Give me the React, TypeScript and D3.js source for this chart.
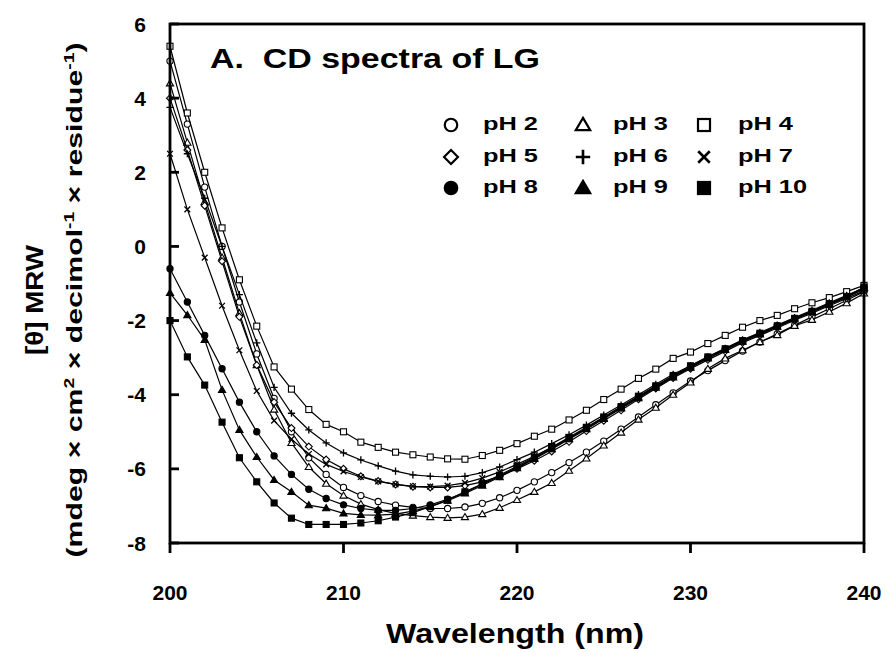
import React from "react";
import * as d3 from "d3";

const wavelengths = [200,201,202,203,204,205,206,207,208,209,210,211,212,213,214,215,216,217,218,219,220,221,222,223,224,225,226,227,228,229,230,231,232,233,234,235,236,237,238,239,240];

const pH2 = [5.0,3.3,1.6,0.0,-1.5,-2.9,-4.1,-5.0,-5.7,-6.15,-6.5,-6.72,-6.88,-6.98,-7.04,-7.07,-7.07,-7.03,-6.93,-6.78,-6.58,-6.35,-6.1,-5.83,-5.55,-5.25,-4.93,-4.6,-4.27,-3.95,-3.63,-3.35,-3.08,-2.82,-2.58,-2.36,-2.13,-1.9,-1.68,-1.45,-1.22];
const pH3 = [4.4,2.8,1.2,-0.3,-1.8,-3.2,-4.4,-5.3,-5.95,-6.4,-6.72,-6.95,-7.1,-7.2,-7.26,-7.3,-7.32,-7.3,-7.22,-7.05,-6.84,-6.62,-6.38,-6.05,-5.72,-5.37,-5.02,-4.67,-4.35,-4.0,-3.67,-3.3,-3.02,-2.8,-2.58,-2.39,-2.14,-1.98,-1.76,-1.53,-1.27];
const pH4 = [5.4,3.6,2.0,0.5,-0.9,-2.15,-3.25,-3.85,-4.4,-4.8,-5.0,-5.28,-5.42,-5.55,-5.62,-5.68,-5.73,-5.74,-5.64,-5.5,-5.32,-5.12,-4.93,-4.68,-4.42,-4.13,-3.85,-3.56,-3.31,-3.02,-2.85,-2.62,-2.4,-2.18,-2.0,-1.86,-1.68,-1.52,-1.38,-1.22,-1.05];
const pH5 = [4.0,2.6,1.1,-0.4,-1.9,-3.2,-4.2,-4.9,-5.4,-5.75,-6.0,-6.2,-6.33,-6.42,-6.48,-6.5,-6.5,-6.45,-6.35,-6.2,-6.0,-5.78,-5.53,-5.27,-4.98,-4.7,-4.42,-4.12,-3.83,-3.55,-3.3,-3.06,-2.83,-2.6,-2.4,-2.2,-1.99,-1.8,-1.6,-1.4,-1.2];
const pH6 = [3.75,2.5,1.3,0.0,-1.3,-2.6,-3.8,-4.5,-4.95,-5.3,-5.57,-5.76,-5.92,-6.06,-6.16,-6.2,-6.22,-6.2,-6.1,-5.95,-5.75,-5.55,-5.32,-5.08,-4.82,-4.55,-4.28,-4.0,-3.72,-3.45,-3.22,-2.98,-2.75,-2.52,-2.32,-2.12,-1.92,-1.72,-1.52,-1.32,-1.12];
const pH7 = [2.5,1.0,-0.3,-1.6,-2.8,-3.9,-4.7,-5.2,-5.6,-5.88,-6.07,-6.22,-6.34,-6.42,-6.47,-6.48,-6.45,-6.38,-6.25,-6.08,-5.88,-5.66,-5.42,-5.17,-4.9,-4.62,-4.33,-4.05,-3.77,-3.5,-3.25,-3.0,-2.78,-2.56,-2.36,-2.16,-1.95,-1.76,-1.56,-1.36,-1.16];
const pH8 = [-0.6,-1.5,-2.4,-3.3,-4.2,-5.0,-5.65,-6.15,-6.55,-6.8,-6.97,-7.07,-7.12,-7.12,-7.07,-6.97,-6.82,-6.63,-6.42,-6.2,-5.96,-5.71,-5.45,-5.18,-4.91,-4.63,-4.35,-4.07,-3.79,-3.51,-3.25,-3.0,-2.77,-2.55,-2.35,-2.15,-1.95,-1.75,-1.55,-1.35,-1.1];
const pH9 = [-1.25,-1.85,-2.52,-3.87,-4.95,-5.68,-6.3,-6.62,-6.98,-7.06,-7.2,-7.24,-7.25,-7.22,-7.14,-7.02,-6.86,-6.66,-6.45,-6.22,-5.98,-5.73,-5.47,-5.2,-4.93,-4.65,-4.37,-4.09,-3.81,-3.53,-3.27,-3.02,-2.79,-2.57,-2.37,-2.17,-1.97,-1.77,-1.57,-1.37,-1.12];
const pH10 = [-2.0,-2.98,-3.74,-4.74,-5.7,-6.35,-6.92,-7.33,-7.5,-7.5,-7.5,-7.46,-7.4,-7.3,-7.18,-7.02,-6.84,-6.62,-6.4,-6.17,-5.93,-5.68,-5.42,-5.15,-4.88,-4.6,-4.32,-4.04,-3.76,-3.48,-3.22,-2.98,-2.76,-2.54,-2.34,-2.14,-1.94,-1.75,-1.55,-1.35,-1.1];

const seriesNames = ["pH 2","pH 3","pH 4","pH 5","pH 6","pH 7","pH 8","pH 9","pH 10"];
const seriesValues = [pH2,pH3,pH4,pH5,pH6,pH7,pH8,pH9,pH10];
const seriesMarkers = ["circle","triangle","square","diamond","plus","x","circle","triangle","square"];
const seriesFilled = [false,false,false,false,false,false,true,true,true];

const xTicks = [200,210,220,230,240];
const yTicks = [6,4,2,0,-2,-4,-6,-8];

const W = 894, H = 653;
const M = { left: 170, right: 864, top: 24, bottom: 543 };
const FONT = "'Liberation Sans', Arial, sans-serif";

function Marker({ type, filled, x, y, s, sw }: { type: string; filled: boolean; x: number; y: number; s: number; sw: number }) {
  const fill = filled ? "#000" : "#fff";
  if (type === "circle") return <circle cx={x} cy={y} r={s * 0.52} fill={fill} stroke="#000" strokeWidth={sw} />;
  if (type === "square") return <rect x={x - s / 2} y={y - s / 2} width={s} height={s} fill={fill} stroke="#000" strokeWidth={sw} />;
  if (type === "triangle") {
    const h = s * 0.95;
    return <path d={`M${x},${y - h * 0.62}L${x + s * 0.6},${y + h * 0.45}L${x - s * 0.6},${y + h * 0.45}Z`} fill={fill} stroke="#000" strokeWidth={sw} strokeLinejoin="miter" />;
  }
  if (type === "diamond") {
    const r = s * 0.58;
    return <path d={`M${x},${y - r}L${x + r},${y}L${x},${y + r}L${x - r},${y}Z`} fill={fill} stroke="#000" strokeWidth={sw} />;
  }
  if (type === "plus") {
    const r = s * 0.6;
    return <path d={`M${x - r},${y}H${x + r}M${x},${y - r}V${y + r}`} fill="none" stroke="#000" strokeWidth={sw * 1.2} />;
  }
  const r = s * 0.48;
  return <path d={`M${x - r},${y - r}L${x + r},${y + r}M${x - r},${y + r}L${x + r},${y - r}`} fill="none" stroke="#000" strokeWidth={sw * 1.2} />;
}

export default function App() {
  const x = d3.scaleLinear().domain([200, 240]).range([M.left, M.right]);
  const y = d3.scaleLinear().domain([-8, 6]).range([M.bottom, M.top]);
  const line = d3.line<number>().x((_, i) => x(wavelengths[i])).y((d) => y(d));

  const legendCols = [451, 583, 704];
  const legendRows = [125, 157, 188];
  const legendTextX = [483, 613, 738];

  return (
    <svg width={W} height={H} style={{ position: "absolute", left: 0, top: 0, background: "#fff" }} fontFamily={FONT} fontWeight="bold">
      <rect x={0} y={0} width={W} height={H} fill="#fff" />
      {seriesValues.map((vals, si) => (
        <g key={si}>
          <path d={line(vals) || ""} fill="none" stroke="#000" strokeWidth={1.2} />
          {vals.map((v, i) => (
            <Marker key={i} type={seriesMarkers[si]} filled={seriesFilled[si]} x={x(wavelengths[i])} y={y(v)} s={6} sw={1.1} />
          ))}
        </g>
      ))}
      <rect x={M.left} y={M.top} width={M.right - M.left} height={M.bottom - M.top} fill="none" stroke="#000" strokeWidth={2.8} />
      {xTicks.map((t) => (
        <g key={t}>
          <line x1={x(t)} x2={x(t)} y1={M.bottom} y2={M.bottom + 10} stroke="#000" strokeWidth={2.8} />
          <text x={x(t)} y={600} textAnchor="middle" fontSize={21}>{t}</text>
        </g>
      ))}
      {yTicks.map((t) => (
        <g key={t}>
          <line x1={M.left} x2={M.left + 9} y1={y(t)} y2={y(t)} stroke="#000" strokeWidth={2.8} />
          <text x={146} y={y(t)} dy="0.36em" textAnchor="end" fontSize={21}>{t}</text>
        </g>
      ))}
      <text x={210} y={68} fontSize={28} textLength={330} lengthAdjust="spacingAndGlyphs" style={{ whiteSpace: "pre" }}>{"A.  CD spectra of LG"}</text>
      {seriesNames.map((n, i) => {
        const c = i % 3, r = Math.floor(i / 3);
        return (
          <g key={n}>
            <Marker type={seriesMarkers[i]} filled={seriesFilled[i]} x={legendCols[c]} y={legendRows[r]} s={12} sw={2.2} />
            <text x={legendTextX[c]} y={legendRows[r] + 5} fontSize={19} textLength={n.length > 4 ? 69 : 55} lengthAdjust="spacingAndGlyphs">{n}</text>
          </g>
        );
      })}
      <text x={515} y={643} textAnchor="middle" fontSize={27} textLength={258} lengthAdjust="spacingAndGlyphs">Wavelength (nm)</text>
      <text transform="translate(43,300) rotate(-90)" textAnchor="middle" fontSize={23} textLength={110} lengthAdjust="spacingAndGlyphs">[θ] MRW</text>
      <text transform="translate(82,300) rotate(-90)" textAnchor="middle" fontSize={22} textLength={515} lengthAdjust="spacingAndGlyphs">
        (mdeg × cm<tspan dy="-8" fontSize={14}>2</tspan><tspan dy="8"> × decimol</tspan><tspan dy="-8" fontSize={14}>-1</tspan><tspan dy="8"> × residue</tspan><tspan dy="-8" fontSize={14}>-1</tspan><tspan dy="8">)</tspan>
      </text>
    </svg>
  );
}
